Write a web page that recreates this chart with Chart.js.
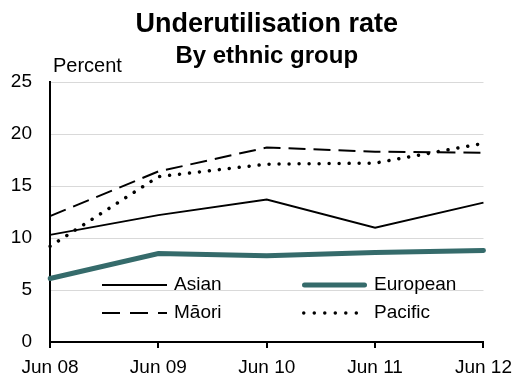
<!DOCTYPE html>
<html lang="en">
<head>
  <meta charset="UTF-8">
  <title>Underutilisation rate by ethnic group</title>
  <script src="https://cdn.jsdelivr.net/npm/chart.js@4.4.1/dist/chart.umd.min.js"></script>
  <style>
    * { box-sizing: border-box; }
    html, body { margin: 0; padding: 0; background: #fff; }
    .chart-container { position: relative; width: 520px; height: 378px; }
  </style>
</head>
<body>
  <div class="chart-container">
    <canvas id="chart" width="520" height="378"></canvas>
  </div>
  <script>
    const FONT = "'Liberation Sans', Arial, sans-serif";

    const periods = ['Jun 08', 'Jun 09', 'Jun 10', 'Jun 11', 'Jun 12'];
    const asian = [10.3, 12.2, 13.7, 11.0, 13.4];
    const european = [6.1, 8.5, 8.3, 8.6, 8.8];
    const maori = [12.1, 16.4, 18.7, 18.3, 18.2];
    const pacific = [9.2, 15.9, 17.1, 17.2, 19.1];
    const yTicks = [0, 5, 10, 15, 20, 25];

    // titles and the unit label sit above the plot, drawn straight on the canvas
    const headings = {
      id: 'headings',
      afterDraw(chart) {
        const { ctx, chartArea } = chart;
        const cx = (chartArea.left + chartArea.right) / 2;
        ctx.save();
        ctx.fillStyle = '#000';
        ctx.textBaseline = 'alphabetic';
        ctx.textAlign = 'center';
        ctx.font = 'bold 27px ' + FONT;
        ctx.fillText('Underutilisation rate', cx, 32);
        ctx.font = 'bold 24px ' + FONT;
        ctx.fillText('By ethnic group', cx, 63);
        ctx.textAlign = 'left';
        ctx.font = '20px ' + FONT;
        ctx.fillText('Percent', 53, 72);
        ctx.restore();
      }
    };

    // two-column legend placed inside the plot area
    const insideLegend = {
      id: 'insideLegend',
      afterDraw(chart) {
        const { ctx } = chart;
        const cols = [102, 302];
        const rows = [285, 313];
        const sampleW = 65;
        ctx.save();
        chart.data.datasets.forEach((ds, i) => {
          const x = cols[i % 2];
          const y = rows[Math.floor(i / 2)];
          ctx.beginPath();
          ctx.strokeStyle = ds.borderColor;
          ctx.lineWidth = ds.borderWidth;
          ctx.lineCap = ds.borderCapStyle || 'butt';
          ctx.setLineDash(ds.legendDash || ds.borderDash || []);
          const inset = ds.borderCapStyle === 'round' ? ds.borderWidth / 2 : 0;
          ctx.moveTo(x + inset, y);
          ctx.lineTo(x + sampleW - inset, y);
          ctx.stroke();
          ctx.setLineDash([]);
          ctx.fillStyle = '#000';
          ctx.font = '19px ' + FONT;
          ctx.textAlign = 'left';
          ctx.textBaseline = 'middle';
          ctx.fillText(ds.label, x + sampleW + 7, y);
        });
        ctx.restore();
      }
    };

    new Chart(document.getElementById('chart'), {
      type: 'line',
      data: {
        labels: periods,
        datasets: [
          { label: 'Asian', data: asian, borderColor: '#000', borderWidth: 2 },
          { label: 'European', data: european, borderColor: '#356b6b', borderWidth: 5, borderCapStyle: 'round' },
          { label: 'Māori', data: maori, borderColor: '#000', borderWidth: 2, borderDash: [17, 8], legendDash: [18, 10] },
          { label: 'Pacific', data: pacific, borderColor: '#000', borderWidth: 3.5, borderDash: [0.01, 10], borderCapStyle: 'round', legendDash: [0.01, 10.5] }
        ]
      },
      options: {
        responsive: false,
        animation: false,
        devicePixelRatio: 1,
        layout: { padding: { left: 0, right: 30, top: 82, bottom: 0 } },
        elements: { point: { radius: 0 }, line: { tension: 0, fill: false } },
        plugins: { legend: { display: false }, tooltip: { enabled: false }, title: { display: false } },
        scales: {
          x: {
            offset: false,
            afterFit(axis) { axis.height = 36; },
            border: { color: '#000', width: 2 },
            grid: { drawOnChartArea: false, drawTicks: true, tickLength: 6, color: '#000', lineWidth: 2 },
            ticks: { color: '#000', font: { family: FONT, size: 19 }, padding: 8, maxRotation: 0 }
          },
          y: {
            min: 0,
            max: 25,
            afterFit(axis) { axis.width = 50; },
            afterBuildTicks(axis) { axis.ticks = yTicks.map((v) => ({ value: v })); },
            border: { color: '#000', width: 2 },
            grid: { color: '#d9d9d9', lineWidth: 1, drawTicks: false },
            ticks: { color: '#000', font: { family: FONT, size: 19 }, padding: 18 }
          }
        }
      },
      plugins: [headings, insideLegend]
    });
  </script>
</body>
</html>
